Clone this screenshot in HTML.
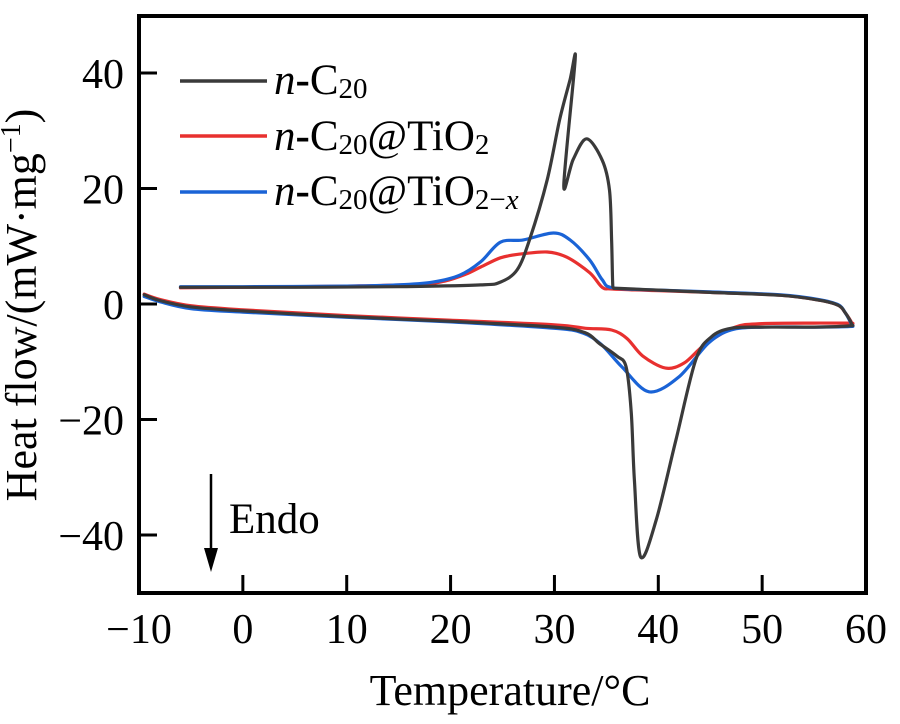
<!DOCTYPE html>
<html><head><meta charset="utf-8"><style>
html,body{margin:0;padding:0;background:#fff;}
svg{display:block;font-family:"Liberation Serif",serif;}
</style></head><body>
<svg id="chart" width="900" height="724" viewBox="0 0 900 724">
<g id="plot"></g>
<rect x="139" y="16" width="727" height="577" fill="none" stroke="#000" stroke-width="4"/>
<g id="axes"></g>
<text x="0" y="0" transform="translate(36,305) rotate(-90)" text-anchor="middle" font-size="44">Heat flow/(mW·mg<tspan dy="-16" font-size="28">−1</tspan><tspan dy="16">)</tspan></text>
<text x="510" y="705" text-anchor="middle" font-size="44">Temperature/°C</text>
<g>
<line x1="211" y1="474" x2="211" y2="556" stroke="#000" stroke-width="2.5"/>
<polygon points="204,548 218,548 211,572" fill="#000"/>
<text x="229" y="533" font-size="43">Endo</text>
</g>
<g>
<line x1="180" y1="81" x2="267" y2="81" stroke="#3a3a3a" stroke-width="3.5"/>
<text x="274" y="94" font-size="43"><tspan font-style="italic">n</tspan><tspan font-weight="bold">-</tspan>C<tspan font-size="29" dy="4">20</tspan></text>
<line x1="180" y1="136" x2="267" y2="136" stroke="#e8302f" stroke-width="3.5"/>
<text x="274" y="150" font-size="43"><tspan font-style="italic">n</tspan><tspan font-weight="bold">-</tspan>C<tspan font-size="29" dy="4">20</tspan><tspan dy="-4">@TiO</tspan><tspan font-size="29" dy="4">2</tspan></text>
<line x1="180" y1="192" x2="267" y2="192" stroke="#1a63d6" stroke-width="3.5"/>
<text x="274" y="205" font-size="43"><tspan font-style="italic">n</tspan><tspan font-weight="bold">-</tspan>C<tspan font-size="29" dy="4">20</tspan><tspan dy="-4">@TiO</tspan><tspan font-size="29" dy="4">2−<tspan font-style="italic">x</tspan></tspan></text>
</g>
</svg>
<script>
const xTicks=[-10,0,10,20,30,40,50,60];
const yTicks=[40,20,0,-20,-40];
// n-C20
const blackHeatT=[-9.5,-8,-5,0,10,20,30,33,34.3,36,36.9,37.4,37.7,38.3,39.8,41.7,43.6,45.1,47,50,55,58.4];
const blackHeatV=[1.6,0.6,-0.5,-1.2,-2.2,-3.0,-4.0,-5.0,-6.8,-9.0,-10.9,-18.9,-30.5,-43.8,-37.4,-23.5,-9.7,-5.7,-4.2,-4.0,-4.0,-3.8];
const blackCoolT=[58.6,58,57.3,55.4,51.8,45,40,36.2,35.7,35.6,35.5,35.3,34.6,33.1,31.8,30.9,32.0,31.5,30.5,29.3,27.6,26.4,24.8,22.9,15,5,-6];
const blackCoolV=[-3.4,-1.5,-0.2,0.7,1.5,2.0,2.4,2.7,2.8,4.0,11.1,19.7,24.9,28.6,25.0,20.6,42.4,38.8,31.9,21.5,11.1,5.9,3.8,3.3,3.0,2.9,2.9];
// n-C20@TiO2
const redHeatT=[-9.5,-8,-5,0,10,20,30,33,35.5,37,38.5,40.7,42.5,44.5,47.4,50,55,58.4];
const redHeatV=[1.7,0.8,-0.3,-1.0,-2.0,-2.8,-3.6,-4.2,-4.5,-6.0,-9.0,-11.1,-10.2,-7.0,-4.0,-3.4,-3.3,-3.3];
const redCoolT=[58.6,58,57.3,55.4,51.8,45,40,35.6,34.6,33.4,31.2,29.3,26.5,24.8,22.9,21.5,19.5,17,10,0,-6];
const redCoolV=[-3.2,-1.5,-0.2,0.7,1.5,2.0,2.3,2.6,2.9,5.4,8.1,9.0,8.6,8.0,6.4,5.2,4.0,3.4,3.1,2.9,2.8];
// n-C20@TiO2-x
const blueHeatT=[-9.5,-8,-5,0,10,20,30,32.7,34.5,36.5,39.1,42,44.8,47,50,55,58.4];
const blueHeatV=[1.3,0.4,-0.8,-1.4,-2.3,-3.1,-4.2,-5.0,-7.0,-10.9,-15.2,-12.6,-6.8,-4.5,-4.0,-4.0,-3.9];
const blueCoolT=[58.6,58,57.3,55.4,51.8,45,40,35.6,34.6,33.4,31.5,29.9,27,24.8,22.9,20.9,18.3,15,10,0,-6];
const blueCoolV=[-3.6,-1.5,-0.1,0.8,1.6,2.1,2.4,2.8,4.2,7.6,11.1,12.3,11.1,10.7,7.3,5.0,3.8,3.3,3.1,3.0,3.0];

const X=t=>139+(t+10)*10.386;
const Y=v=>304-v*5.775;
const NS="http://www.w3.org/2000/svg";
const plot=document.getElementById('plot');
const axes=document.getElementById('axes');
function mk(tag,attrs){const e=document.createElementNS(NS,tag);for(const k in attrs)e.setAttribute(k,attrs[k]);return e;}
xTicks.forEach((t,i)=>{
  if(i>0&&i<xTicks.length-1){const l=mk('line',{x1:X(t),x2:X(t),y1:593,y2:575,stroke:'#000','stroke-width':3});
  
  
  axes.appendChild(l);}
  const tx=mk('text',{x:X(t),y:643,'text-anchor':'middle','font-size':42});
  tx.textContent=t<0?'−'+(-t):String(t);
  
  
  axes.appendChild(tx);
});
yTicks.forEach(v=>{
  const l=mk('line',{x1:139,x2:157,y1:Y(v),y2:Y(v),stroke:'#000','stroke-width':3});
  
  
  axes.appendChild(l);
  const tx=mk('text',{x:124,y:Y(v)+15,'text-anchor':'end','font-size':42});
  tx.textContent=v<0?'−'+(-v):String(v);
  
  
  axes.appendChild(tx);
});
function smooth(pts){
  let d='M'+pts[0][0].toFixed(1)+','+pts[0][1].toFixed(1);
  for(let i=0;i<pts.length-1;i++){
    const p0=pts[i-1]||pts[i],p1=pts[i],p2=pts[i+1],p3=pts[i+2]||p2;
    const k=0.16;
    const c1=[p1[0]+(p2[0]-p0[0])*k,p1[1]+(p2[1]-p0[1])*k];
    const c2=[p2[0]-(p3[0]-p1[0])*k,p2[1]-(p3[1]-p1[1])*k];
    d+='C'+c1[0].toFixed(1)+','+c1[1].toFixed(1)+' '+c2[0].toFixed(1)+','+c2[1].toFixed(1)+' '+p2[0].toFixed(1)+','+p2[1].toFixed(1);
  }
  return d;
}
function series(ht,hv,ct,cv,color,name){
  const pts=[];
  ht.forEach((t,i)=>pts.push([X(t),Y(hv[i])]));
  ct.forEach((t,i)=>pts.push([X(t),Y(cv[i])]));
  const p=mk('path',{d:smooth(pts),fill:'none',stroke:color,'stroke-width':3.2,'stroke-linejoin':'round','stroke-linecap':'round'});
  
  
  plot.appendChild(p);
}
series(redHeatT,redHeatV,redCoolT,redCoolV,'#e8302f','series-c20-tio2');
series(blueHeatT,blueHeatV,blueCoolT,blueCoolV,'#1a63d6','series-c20-tio2x');
series(blackHeatT,blackHeatV,blackCoolT,blackCoolV,'#3a3a3a','series-c20');
</script>
</body></html>
